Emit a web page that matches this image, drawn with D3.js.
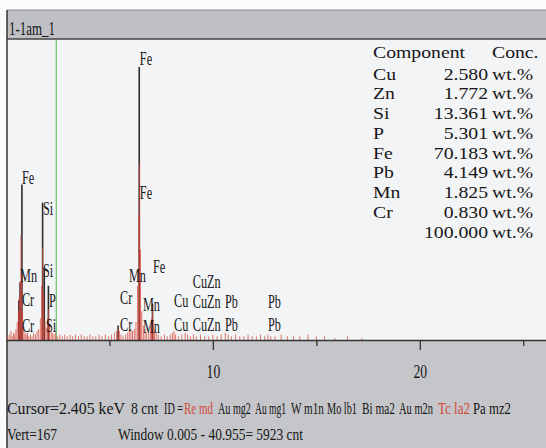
<!DOCTYPE html>
<html>
<head>
<meta charset="utf-8">
<script src="https://cdn.jsdelivr.net/npm/d3@7"></script>
<style>
  html, body { margin: 0; padding: 0; background: #fff; }
  svg { display: block; }
  svg text { font-family: "Liberation Serif", "Tinos", "Times New Roman", "Times", "Nimbus Roman", "Noto Serif", "DejaVu Serif", "FreeSerif", serif; fill: #161616; }
</style>
</head>
<body>
<div id="chart"></div>
<script>
// spectrum title and quant table
const title = "1-1am_1";
const components = ["Cu", "Zn", "Si", "P", "Fe", "Pb", "Mn", "Cr"];
const concValues = [2.580, 1.772, 13.361, 5.301, 70.183, 4.149, 1.825, 0.830];
const concTotal = 100.000;

// energy axis (keV)
const xTicks = [5, 10, 15, 20, 25];
const xTickLabels = { 10: "10", 20: "20" };
const cursorKeV = 2.43;
const vertCounts = 167;

// KLM marker lines (keV, height in counts)
const markerKeV = [0.62, 0.68, 0.77, 1.77, 1.85, 2.05, 5.42, 6.44, 7.08];
const markerCnt = [22, 32, 86, 76, 40, 30, 8, 151, 20];

// marker labels (left edge keV, baseline counts)
const labText = ["Fe", "Si", "Mn", "Si", "Cr", "P", "Cr", "Si",
                 "Fe", "Fe", "Mn", "Fe", "Cr", "Mn", "Cu", "CuZn", "CuZn", "Pb", "Pb",
                 "Cr", "Mn", "Cu", "CuZn", "Pb", "Pb"];
const labKeV = [0.77, 1.79, 0.68, 1.79, 0.77, 2.08, 0.77, 1.93,
                6.47, 6.47, 5.94, 7.10, 5.51, 6.62, 8.12, 9.03, 9.03, 10.58, 12.66,
                5.51, 6.62, 8.12, 9.03, 10.58, 12.66];
const labCnt = [86, 69, 32, 35, 19, 18, 4.5, 4.5,
                152, 78, 32, 37, 20, 16, 18, 29, 17.5, 17.5, 17.5,
                5, 4, 5, 5, 5, 5];

// measured spectrum (keV, counts)
const specKeV = [0.08, 0.16, 0.24, 0.30, 0.36, 0.42, 0.48, 0.54, 0.60, 0.64, 0.68, 0.72, 0.76, 0.80,
  0.86, 0.92, 0.98, 1.04, 1.10, 1.18, 1.26, 1.34, 1.42, 1.50, 1.58, 1.66, 1.72, 1.77, 1.82,
  1.88, 1.94, 2.00, 2.05, 2.10, 2.18, 2.24, 2.32, 2.40, 2.48, 2.60, 2.72, 2.84, 2.96,
  3.10, 3.22, 3.36, 3.50, 3.64, 3.78, 3.92, 4.06, 4.20, 4.34, 4.50, 4.64, 4.80, 4.96, 5.10, 5.24, 5.34,
  5.42, 5.48, 5.56, 5.66, 5.78, 5.88, 5.96, 6.04, 6.12, 6.20, 6.28, 6.36, 6.42, 6.46, 6.50,
  6.56, 6.64, 6.72, 6.80, 6.90, 6.98, 7.04, 7.08, 7.12, 7.18, 7.26, 7.36, 7.50, 7.66, 7.80, 7.94, 8.04,
  8.12, 8.20, 8.34, 8.50, 8.66, 8.78, 8.92, 9.06, 9.20, 9.40, 9.60, 9.80, 10.00, 10.20, 10.40, 10.60,
  10.74, 10.90, 11.10, 11.30, 11.50, 11.70, 11.90, 12.10, 12.30, 12.50, 12.66, 12.80, 13.00, 13.30,
  13.60, 13.90, 14.20, 14.60, 15.00, 15.40, 15.90, 16.50, 17.20];
const specCnt = [2, 3, 5, 2, 4, 3, 6, 10, 16, 24, 32, 58, 36, 16,
  7, 4, 3, 4, 2, 3, 2, 4, 3, 5, 6, 12, 30, 51, 26,
  10, 7, 12, 17, 9, 5, 4, 3, 4, 2, 3, 2, 3, 2,
  3, 2, 3, 2, 3, 2, 2, 3, 2, 2, 3, 2, 3, 2, 3, 4, 5,
  7, 5, 3, 2, 3, 4, 5, 6, 5, 6, 10, 30, 70, 98, 50,
  16, 8, 6, 4, 5, 8, 12, 19, 11, 6, 4, 3, 2, 3, 2, 3, 4,
  5, 3, 2, 3, 4, 3, 2, 3, 2, 3, 2, 2, 3, 2, 3, 4,
  3, 2, 3, 2, 2, 3, 2, 2, 3, 2, 3, 2, 2, 3,
  2, 2, 2, 3, 2, 2, 1, 2, 1];

// status lines
const status1 = [["Cursor=2.405 keV", 7, 118], ["8 cnt", 131, 27], ["ID =", 164, 19],
  ["Re md", 184, 29, "#d24a3c"], ["Au mg2", 218, 33], ["Au mg1", 255, 31], ["W m1n", 291, 33],
  ["Mo lb1", 327, 30], ["Bi ma2", 362, 33], ["Au m2n", 399, 34], ["Tc la2", 438, 32, "#d24a3c"],
  ["Pa mz2", 473, 38]];
const status2 = [["Vert=" + vertCounts, 7, 50], ["Window 0.005 - 40.955=  5923 cnt", 118, 185]];

const W = 546, H = 448;
const svg = d3.select("#chart").append("svg").attr("width", W).attr("height", H);

const left = 7, barTop = 10, plotTop = 39, plotBottom = 340;

svg.append("rect").attr("width", W).attr("height", H).attr("fill", "#fbfbfb");
svg.append("rect").attr("x", left).attr("y", barTop).attr("width", W - left).attr("height", plotTop - barTop)
  .attr("fill", "#bfc0c3");
svg.append("rect").attr("x", left).attr("y", plotTop).attr("width", W - left).attr("height", plotBottom - plotTop)
  .attr("fill", "#f3f4f6");
svg.append("rect").attr("x", left).attr("y", plotBottom).attr("width", W - left).attr("height", H - plotBottom)
  .attr("fill", "#c5c6c9");

// frame lines
svg.append("line").attr("x1", left).attr("x2", W).attr("y1", barTop).attr("y2", barTop)
  .attr("stroke", "#8a8a8c").attr("stroke-width", 1);
svg.append("line").attr("x1", left).attr("x2", W).attr("y1", plotTop).attr("y2", plotTop)
  .attr("stroke", "#444").attr("stroke-width", 1.5);
svg.append("line").attr("x1", left).attr("x2", left).attr("y1", barTop).attr("y2", H)
  .attr("stroke", "#333").attr("stroke-width", 1.5);

// squeeze a text to a target width with a horizontal scale
function fitText(x0, y0, size, width, str, colour) {
  const t = svg.append("text").attr("font-size", size).style("fill", colour || "#161616").text(str);
  const natural = t.node().getComputedTextLength();
  const sx = Math.min(1, width / natural);
  t.attr("transform", `translate(${x0},${y0}) scale(${sx},1)`);
  return t;
}

fitText(9, 35, 18, 46, title);

const x = d3.scaleLinear().domain([0, 26.1]).range([6, W]);
const y = d3.scaleLinear().domain([0, vertCounts]).range([plotBottom, 38]);

// cursor
svg.append("line").attr("x1", x(cursorKeV)).attr("x2", x(cursorKeV))
  .attr("y1", plotTop + 1).attr("y2", plotBottom)
  .attr("stroke", "#6cc070").attr("stroke-width", 1.2);

// marker lines
svg.append("g").selectAll("line").data(markerKeV).join("line")
  .attr("x1", d => x(d)).attr("x2", d => x(d))
  .attr("y1", (d, i) => y(markerCnt[i])).attr("y2", plotBottom)
  .attr("stroke", "#2e2e30").attr("stroke-width", 1.6);

// spectrum spikes
svg.append("g").selectAll("line").data(specKeV).join("line")
  .attr("x1", d => x(d)).attr("x2", d => x(d))
  .attr("y1", (d, i) => y(specCnt[i])).attr("y2", plotBottom)
  .attr("stroke", "#d8473a").attr("stroke-opacity", 0.75).attr("stroke-width", 1);

// marker labels
svg.append("g").selectAll("text").data(labText).join("text")
  .attr("transform", (d, i) => `translate(${x(labKeV[i])},${y(labCnt[i])}) scale(0.68,1)`)
  .attr("font-size", 18).text(d => d);

// axis
const axis = d3.axisBottom(x).tickValues(xTicks).tickSizeInner(10).tickSizeOuter(0)
  .tickPadding(15).tickFormat(d => xTickLabels[d] || "");
const ax = svg.append("g").attr("transform", `translate(0,${plotBottom})`).call(axis);
ax.attr("font-family", null);
ax.select(".domain").attr("stroke", "#333").attr("stroke-width", 1.5);
ax.selectAll(".tick line").attr("stroke", "#333").attr("stroke-width", 1.3)
  .attr("y2", d => xTickLabels[d] ? 10 : 6);
ax.selectAll(".tick text").attr("font-size", 19)
  .attr("fill", "#161616").attr("transform", "scale(0.72,1)");

// quant table
const tbl = svg.append("g").attr("font-size", 17);
function cell(str, xx, yy, anchor) {
  tbl.append("text").attr("transform", `translate(${xx},${yy}) scale(1.16,1)`)
    .attr("text-anchor", anchor || "start").text(str);
}
cell("Component", 373, 57.5);
cell("Conc.", 492, 57.5);
const rowY = i => 79.5 + i * 19.75;
components.forEach((c, i) => {
  cell(c, 373, rowY(i));
  cell(concValues[i].toFixed(3), 488, rowY(i), "end");
  cell("wt.%", 492, rowY(i));
});
cell(concTotal.toFixed(3), 488, rowY(components.length), "end");
cell("wt.%", 492, rowY(components.length));

// status lines
status1.forEach(k => fitText(k[1], 414, 16, k[2], k[0], k[3]));
status2.forEach(k => fitText(k[1], 440, 16, k[2], k[0], k[3]));
</script>
</body>
</html>
